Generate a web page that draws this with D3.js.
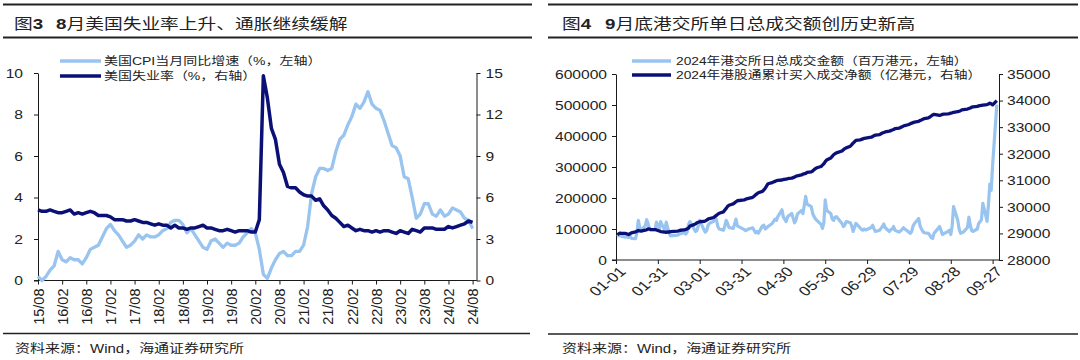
<!DOCTYPE html>
<html><head><meta charset="utf-8">
<script src="https://cdn.jsdelivr.net/npm/d3@7"></script>
<style>
body{margin:0;background:#fff}
svg{display:block}
text{font-family:"Liberation Sans",Arial,"Noto Sans CJK SC",sans-serif;fill:#222}
</style></head>
<body><svg id="c" width="1080" height="360"></svg>
<script>
// ---------- Data: left chart (monthly, 2015-08 .. 2024-08) ----------
const cpiYoY = [0.2,0.0,0.2,0.5,0.7,
 1.4,1.0,0.9,1.1,1.0,1.0,0.8,1.1,1.5,1.6,1.7,2.1,
 2.5,2.7,2.4,2.2,1.9,1.6,1.7,1.9,2.2,2.0,2.2,2.1,
 2.1,2.2,2.4,2.5,2.8,2.9,2.9,2.7,2.3,2.5,2.2,1.9,
 1.6,1.5,1.9,2.0,1.8,1.6,1.8,1.7,1.7,1.8,2.1,2.3,
 2.5,2.3,1.5,0.3,0.1,0.6,1.0,1.3,1.4,1.2,1.2,1.4,
 1.4,1.7,2.6,4.2,5.0,5.4,5.4,5.3,5.4,6.2,6.8,7.0,
 7.5,7.9,8.5,8.3,8.6,9.1,8.5,8.3,8.2,7.7,7.1,6.5,
 6.4,6.0,5.0,4.9,4.0,3.0,3.2,3.7,3.7,3.2,3.1,3.4,
 3.1,3.2,3.5,3.4,3.3,3.0,2.9,2.5];
const unemployment = [5.1,5.0,5.0,5.1,5.0,
 4.9,4.9,5.0,5.1,4.8,4.9,4.8,4.9,5.0,4.9,4.7,4.7,
 4.7,4.6,4.4,4.4,4.4,4.3,4.3,4.4,4.3,4.2,4.2,4.1,
 4.0,4.1,4.0,4.0,3.8,4.0,3.8,3.8,3.7,3.8,3.8,3.9,
 4.0,3.8,3.8,3.7,3.6,3.6,3.7,3.6,3.5,3.6,3.6,3.6,
 3.5,3.5,4.4,14.8,13.2,11.0,10.2,8.4,7.8,6.8,6.7,6.7,
 6.4,6.2,6.1,6.1,5.8,5.9,5.4,5.1,4.7,4.5,4.2,3.9,
 4.0,3.8,3.6,3.7,3.6,3.6,3.5,3.6,3.5,3.6,3.6,3.5,
 3.4,3.6,3.5,3.4,3.7,3.6,3.5,3.8,3.8,3.8,3.7,3.7,
 3.7,3.9,3.8,3.9,4.0,4.1,4.3,4.2];
const monthLabels = ["15/08","16/02","16/08","17/02","17/08","18/02","18/08","19/02","19/08",
 "20/02","20/08","21/02","21/08","22/02","22/08","23/02","23/08","24/02","24/08"];
const leftTicksL = [0,2,4,6,8,10];
const rightTicksL = [0,3,6,9,12,15];

// ---------- Data: right chart (HK trading days, 2024-01-02 .. 2024-09-30) ----------
const hkHolidays = ["01-01","02-12","02-13","03-29","04-01","04-04","05-01","05-15","06-10","07-01","09-18"];
const turnover = [ // 百万港元
 82000,78000,85000,76000, 74000,80000,72000,78000,70000, 69000,88000,128000,105000,98000,
 110000,130000,118000,100000,95000, 98000,122000,112000,
 100000,124000, 95000,122000,105000,90000,78000, 80000,82000,85000,
 88000,84000,90000,115000,124000, 100000,92000,95000,110000,
 128000, 98000,90000,95000,112000,118000, 125000,138000,130000,108000,100000,
 96000,110000,128000,118000,105000, 102000,115000,132000,110000,
 98000,95000, 100000, 104000,96000,88000,92000,86000, 110000,112000,100000,104000,108000,
 118000,125000,132000,128000,140000, 162000,138000,
 124000,140000, 150000,135000,120000,128000,148000, 160000,150000,205000,180000,
 172000,150000,140000,132000,128000, 115000,102000,120000,194000,160000,
 150000,132000,128000,138000,140000, 118000,108000,112000,124000,
 120000,110000,92000,105000,118000, 104000,98000,96000,100000,97000,
 105000,112000,100000,92000, 96000,102000,108000,116000,104000, 92000,98000,100000,108000,96000,
 90000,94000,98000,104000,100000, 90000,86000,92000,
 110000,118000, 134000,110000,100000,92000,88000, 86000,80000,72000,70000,86000,
 102000,108000,96000,82000,85000, 92000,96000,82000,110000,172000,
 128000,100000,86000,88000,90000, 105000,138000,112000,95000,92000,
 100000,118000,130000,183000, 125000,178000,245000,225000,306000, 500960];
const southbound = [ // 亿港元, 累计
 28950,28990,29010,29000, 29000,28980,28960,28990,29020, 29060,29080,29110,29100,29090,
 29120,29140,29170,29160,29150, 29140,29130,29110,
 29090,29070, 29050,29040,29060,29050,29070, 29090,29100,29120,
 29130,29150,29170,29200,29280, 29330,29360,29400,29420,
 29440, 29450,29470,29500,29540,29560, 29600,29640,29680,29720,29760,
 29810,29880,29940,30020,30060, 30110,30150,30190,30230,
 30260,30290, 30320, 30360,30400,30450,30490,30530, 30580,30640,30700,30790,30870,
 30910,30940,30960,30980,31000, 31010,31030,
 31040,31060, 31080,31100,31120,31150,31170, 31200,31230,31260,31300,
 31320,31350,31400,31440,31470, 31520,31570,31620,31700,31760,
 31840,31900,31960,32000,32030, 32100,32150,32190,32220,
 32280,32340,32400,32450,32500, 32520,32540,32560,32580,32590,
 32620,32650,32680,32700, 32720,32750,32780,32800,32820, 32850,32870,32890,32910,32940,
 32960,32990,33010,33040,33060, 33100,33130,33150,
 33170,33190, 33220,33250,33270,33300,33320, 33350,33380,33420,33460,33480,
 33450,33440,33460,33480,33490, 33500,33510,33530,33540,33560,
 33580,33600,33620,33650,33660, 33680,33700,33720,33750,33760,
 33780,33800,33820,33830, 33850,33870,33900,33880,33840, 34000];
const leftTicksR = [0,100000,200000,300000,400000,500000,600000];
const rightTicksR = [28000,29000,30000,31000,32000,33000,34000,35000];

// ---------- Styling ----------
const S = 1.25; // horizontal stretch of glyphs in the reference
const LIGHT = "#98c4ef", DARK = "#0b1077", AX = "#1a1a1a";
const CJK = '"Liberation Sans","Noto Sans CJK SC",sans-serif';
const svg = d3.select("#c");
svg.append("rect").attr("width",1080).attr("height",360).attr("fill","#fff");

function stext(x, y, size, anchor){
  return svg.append("text").attr("transform",`translate(${x},${y}) scale(${S},1)`)
    .attr("font-size",size).attr("text-anchor",anchor||"start").style("font-family",CJK);
}
function hline(x1,x2,y,w,c){
  svg.append("line").attr("x1",x1).attr("x2",x2).attr("y1",y).attr("y2",y)
    .attr("stroke",c||"#222").attr("stroke-width",w);
}
function title(x0, numTxt, x1, lead, rest){
  const t = stext(x0, 29, 15); t.attr("fill","#1a1a1a");
  t.append("tspan").text("图");
  t.append("tspan").attr("font-weight","bold").text(numTxt);
  const t2 = stext(x1, 29, 15);
  t2.append("tspan").attr("font-weight","bold").text(lead);
  t2.append("tspan").text(rest);
}
function styleAxis(g, fs){
  g.select(".domain").attr("stroke",AX);
  g.selectAll(".tick line").attr("stroke",AX);
  g.selectAll("text").attr("font-size",fs||12.5).attr("fill","#222").style("font-family",'"Liberation Sans",Arial,sans-serif');
}

// frame lines
hline(3,532,4.5,2); hline(3,532,37.5,2); hline(3,530,333.5,1.6);
hline(548,1078,4.5,2); hline(548,1078,37.5,2); hline(548,1078,334,1.6);

title(14,"3",56,"8","月美国失业率上升、通胀继续缓解");
title(562,"4",605,"9","月底港交所单日总成交额创历史新高");

stext(15,353,12).attr("fill","#333").text("资料来源：Wind，海通证券研究所");
stext(562,353,12).attr("fill","#333").text("资料来源：Wind，海通证券研究所");

// ---------- Left chart ----------
{
  const x0=38, x1=472.6, xr=476.5, yT=73, yB=280.5;
  const x = d3.scalePoint().domain(d3.range(cpiYoY.length)).range([x0,x1]);
  const yL = d3.scaleLinear().domain([0,10]).range([yB,yT]);
  const yR = d3.scaleLinear().domain([0,15]).range([yB,yT]);

  const gl = svg.append("g").attr("transform",`translate(${x0},0)`)
    .call(d3.axisLeft(yL).tickValues(leftTicksL).tickSize(4).tickSizeOuter(0));
  styleAxis(gl);
  gl.selectAll("text").attr("x",-15/S).attr("dy","0.35em").attr("transform",`scale(${S},1)`);

  const gr = svg.append("g").attr("transform",`translate(${xr},0)`)
    .call(d3.axisRight(yR).tickValues(rightTicksL).tickSize(4).tickSizeOuter(0));
  styleAxis(gr);
  gr.selectAll("text").attr("x",9/S).attr("dy","0.35em").attr("transform",`scale(${S},1)`);

  const tickIdx = monthLabels.map((_,i)=>i*6);
  const gb = svg.append("g").attr("transform",`translate(0,${yB})`)
    .call(d3.axisBottom(x).tickValues(tickIdx).tickSize(4).tickSizeOuter(0)
      .tickFormat(i=>monthLabels[i/6]));
  styleAxis(gb, 14.5);
  gb.select(".domain").remove();
  gb.selectAll("text").attr("text-anchor","end").attr("x",-8).attr("y",0).attr("dy","0.36em")
    .attr("transform",`rotate(-90)`);
  hline(x0-4, xr, yB, 1, AX);

  svg.append("path").datum(cpiYoY).attr("fill","none").attr("stroke",LIGHT)
    .attr("stroke-width",3.3).attr("stroke-linejoin","round")
    .attr("d", d3.line().x((d,i)=>x(i)).y(d=>yL(d)));
  svg.append("path").datum(unemployment).attr("fill","none").attr("stroke",DARK)
    .attr("stroke-width",3.5).attr("stroke-linejoin","round")
    .attr("d", d3.line().x((d,i)=>x(i)).y(d=>yR(d)));

  // legend
  svg.append("line").attr("x1",60).attr("x2",101).attr("y1",61).attr("y2",61)
    .attr("stroke",LIGHT).attr("stroke-width",3.5);
  svg.append("line").attr("x1",60).attr("x2",101).attr("y1",76).attr("y2",76)
    .attr("stroke",DARK).attr("stroke-width",3.5);
  stext(104,65,11.2).attr("fill","#333").text("美国CPI当月同比增速（%，左轴）");
  stext(104,80,11.2).attr("fill","#333").text("美国失业率（%，右轴）");
}

// ---------- Right chart ----------
{
  const x0=616, xr=999, yT=74, yB=260;
  const fmt = d3.timeFormat("%m-%d");
  const start = new Date(2024,0,1), end = new Date(2024,8,30);
  const days = [];
  for (let d = new Date(2024,0,2); d <= end; d = d3.timeDay.offset(d,1)) {
    const w = d.getDay();
    if (w!==0 && w!==6 && !hkHolidays.includes(fmt(d))) days.push(d);
  }
  const n = Math.min(days.length, turnover.length, southbound.length);
  const rows = d3.range(n).map(i=>({date:days[i], t:turnover[i], s:southbound[i]}));

  const x = d3.scaleTime().domain([start,end]).range([x0,996.8]);
  const yL = d3.scaleLinear().domain([0,600000]).range([yB,yT]);
  const yR = d3.scaleLinear().domain([28000,35000]).range([yB,yT]);

  const gl = svg.append("g").attr("transform",`translate(${x0},0)`)
    .call(d3.axisLeft(yL).tickValues(leftTicksR).tickSize(4).tickSizeOuter(0).tickFormat(d3.format("d")));
  styleAxis(gl);
  gl.selectAll("text").attr("x",-9/S).attr("dy","0.35em").attr("transform",`scale(${S},1)`);

  const gr = svg.append("g").attr("transform",`translate(${xr},0)`)
    .call(d3.axisRight(yR).tickValues(rightTicksR).tickSize(4).tickSizeOuter(0).tickFormat(d3.format("d")));
  styleAxis(gr);
  gr.selectAll("text").attr("x",8/S).attr("dy","0.35em").attr("transform",`scale(${S},1)`);

  const tickDates = d3.range(0,271,30).map(k=>d3.timeDay.offset(start,k));
  const gb = svg.append("g").attr("transform",`translate(0,${yB})`)
    .call(d3.axisBottom(x).tickValues(tickDates).tickSize(4).tickSizeOuter(0).tickFormat(fmt));
  styleAxis(gb, 13.5);
  gb.select(".domain").remove();
  gb.selectAll("text").attr("text-anchor","end").attr("x",-3).attr("y",10).attr("dy","0.35em")
    .attr("transform",`scale(${S},1) rotate(-45)`);
  hline(x0-4, xr, yB, 1, AX);

  svg.append("path").datum(rows).attr("fill","none").attr("stroke",LIGHT)
    .attr("stroke-width",3.2).attr("stroke-linejoin","round")
    .attr("d", d3.line().x(d=>x(d.date)).y(d=>yL(d.t)));
  svg.append("path").datum(rows).attr("fill","none").attr("stroke",DARK)
    .attr("stroke-width",3.3).attr("stroke-linejoin","round")
    .attr("d", d3.line().x(d=>x(d.date)).y(d=>yR(d.s)));

  svg.append("line").attr("x1",632).attr("x2",671).attr("y1",61).attr("y2",61)
    .attr("stroke",LIGHT).attr("stroke-width",3.5);
  svg.append("line").attr("x1",632).attr("x2",671).attr("y1",75).attr("y2",75)
    .attr("stroke",DARK).attr("stroke-width",3.5);
  stext(676,65,11).attr("fill","#333").text("2024年港交所日总成交金额（百万港元，左轴）");
  stext(676,79,11).attr("fill","#333").text("2024年港股通累计买入成交净额（亿港元，右轴）");
}
</script></body></html>
